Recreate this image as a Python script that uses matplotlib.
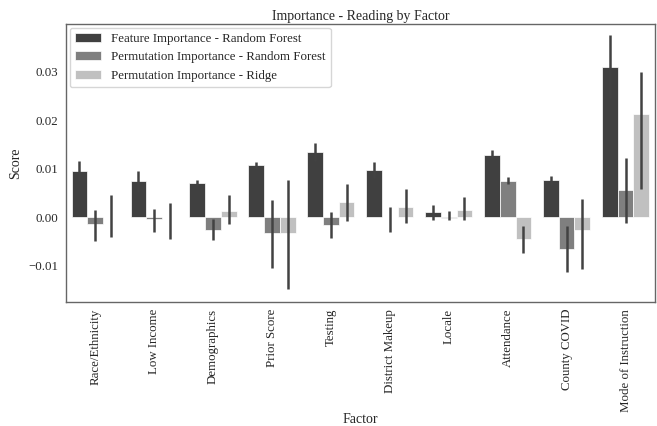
import matplotlib
matplotlib.use('Agg')
import matplotlib.pyplot as plt
import numpy as np
import seaborn as sns

sns.set_style('white')
plt.rcParams['font.family'] = ['Liberation Serif', 'DejaVu Serif']

factors = ['Race/Ethnicity', 'Low Income', 'Demographics', 'Prior Score', 'Testing',
           'District Makeup', 'Locale', 'Attendance', 'County COVID', 'Mode of Instruction']
series = ['Feature Importance - Random Forest', 'Permutation Importance - Random Forest',
          'Permutation Importance - Ridge']

# mean values
fi_rf = [0.0096, 0.0074, 0.0070, 0.0107, 0.0135, 0.0097, 0.0010, 0.0129, 0.0076, 0.0311]
pi_rf = [-0.0015, -0.0004, -0.0026, -0.0033, -0.0017, 0.0000, -0.0001, 0.0074, -0.0066, 0.0057]
pi_ridge = [0.0001, 0.0000, 0.0012, -0.0033, 0.0032, 0.0021, 0.0015, -0.0045, -0.0026, 0.0214]

# confidence interval ends (upper, lower)
fi_rf_hi = [0.0115, 0.0096, 0.0076, 0.0114, 0.0154, 0.0114, 0.0025, 0.0138, 0.0085, 0.0375]
fi_rf_lo = [0.0077, 0.0052, 0.0064, 0.0100, 0.0116, 0.0080, -0.0005, 0.0120, 0.0067, 0.0247]
pi_rf_hi = [0.0014, 0.0018, -0.0004, 0.0035, 0.0010, 0.0021, 0.0013, 0.0082, -0.0019, 0.0123]
pi_rf_lo = [-0.0049, -0.0031, -0.0048, -0.0105, -0.0043, -0.0030, -0.0005, 0.0069, -0.0112, -0.0012]
pi_ridge_hi = [0.0045, 0.0030, 0.0045, 0.0076, 0.0069, 0.0059, 0.0041, -0.0019, 0.0037, 0.0299]
pi_ridge_lo = [-0.0040, -0.0045, -0.0014, -0.0148, -0.0008, -0.0012, -0.0006, -0.0074, -0.0107, 0.0059]

colors = ['#404040', '#7f7f7f', '#c0c0c0']

fig = plt.figure(figsize=(6.57, 4.26), dpi=100)
ax = fig.add_axes([0.1, 0.291, 0.897, 0.653])

x = np.arange(len(factors))
w = 0.8 / 3
means = [fi_rf, pi_rf, pi_ridge]
his = [fi_rf_hi, pi_rf_hi, pi_ridge_hi]
los = [fi_rf_lo, pi_rf_lo, pi_ridge_lo]
for i in range(3):
    xs = x + (i - 1) * w
    ax.bar(xs, means[i], width=w, color=colors[i], edgecolor='white', linewidth=0.5,
           label=series[i], zorder=2)
    ax.vlines(xs, los[i], his[i], color='#424242', lw=1.8, zorder=3)

ax.set_xlim(-0.5, len(factors) - 0.5)
ax.set_ylim(-0.0175, 0.0399)
ax.set_yticks([-0.01, 0.00, 0.01, 0.02, 0.03])
ax.set_xticks(x)
ax.set_xticklabels(factors, rotation=90, fontsize=9.3)
ax.tick_params(axis='x', pad=1.5)
ax.tick_params(axis='y', labelsize=9.3, pad=2)
ax.set_title('Importance - Reading by Factor', fontsize=10, pad=3)
ax.set_xlabel('Factor', fontsize=10, labelpad=1)
ax.set_ylabel('Score', fontsize=10)
ax.legend(loc='upper left', fontsize=9.3, borderaxespad=0.3)
for s in ax.spines.values():
    s.set_color('#666666')
    s.set_linewidth(1.0)

plt.savefig('out.png', dpi=100)
